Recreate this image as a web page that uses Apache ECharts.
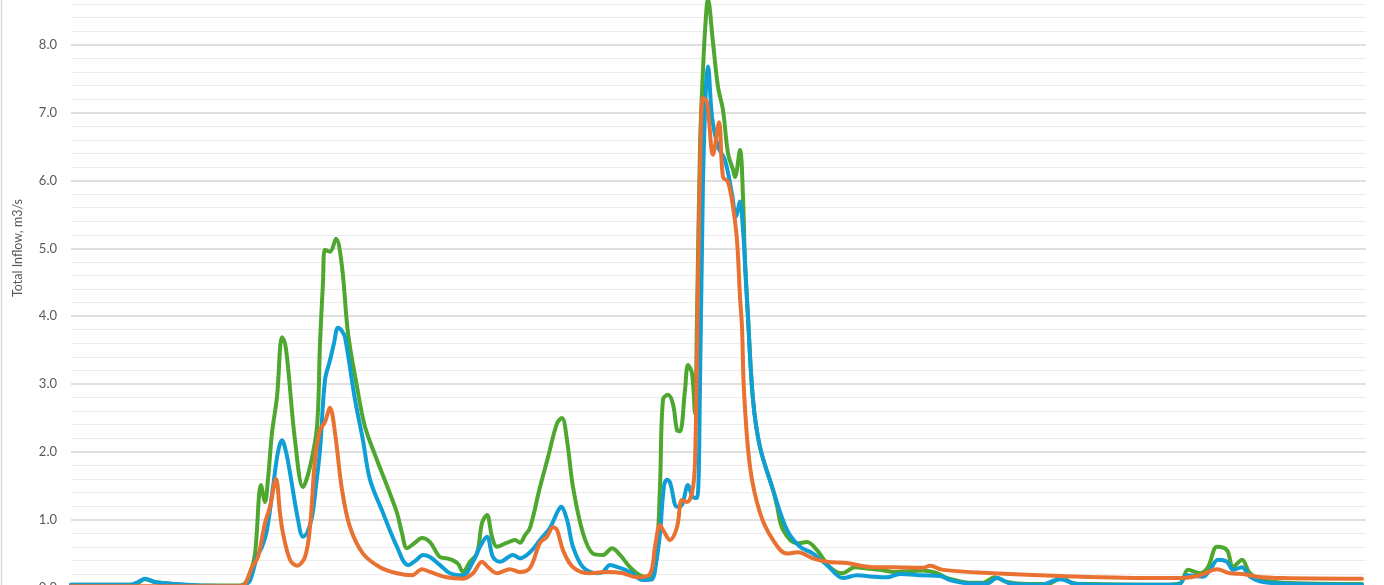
<!DOCTYPE html>
<html><head><meta charset="utf-8">
<script src="https://cdn.jsdelivr.net/npm/echarts@6/dist/echarts.min.js"></script>
<style>html,body{margin:0;padding:0;background:#fff}#c{width:1384px;height:585px}</style>
</head><body><div id="c"></div>
<script>
// x in days (sample positions), y in m3/s
const greenX = [0,11.8,13.4,14.8,16.8,20.8,25.8,33.8,34.8,35.8,36.8,38,38.8,39.4,40.2,41.2,42.2,42.8,43.4,44.8,46.4,47.8,49.2,49.8,50.4,50.8,51.8,53,54.2,55.4,57.2,58.8,61.2,63.2,65.2,66.2,67.2,68.8,70.2,71.8,73.8,75.2,76.4,77.4,78.4,79.8,81.2,82.2,83.2,84.2,85.2,87.2,88.8,89.8,90.8,91.8,93.8,95.4,97.2,98.2,99.2,100.4,102.4,104.4,106.4,108.2,109.8,111.8,113.8,115.8,117,117.8,118.4,119.4,120.4,121.2,121.8,122.8,123.4,124.2,124.8,125.2,125.8,126.2,126.8,127.4,128.4,129.4,130.4,131.4,132.4,132.8,133.8,134.4,134.8,135.4,136.4,137.8,140.4,141.2,142.4,145.2,147.2,149.2,151.8,154.2,156.8,159.2,161.8,164.4,170.4,173.2,175.2,179.8,182.4,184.8,187.2,191.2,195.2,198.2,200.4,204.4,217.8,221.8,223.4,225.8,227.4,229.2,231.2,232.4,234.2,235.8,238.4,242.4,258.2];
const greenY = [0.04,0.04,0.07,0.12,0.08,0.05,0.03,0.03,0.06,0.2,0.5,1.51,1.26,1.6,2.28,2.81,3.69,3.6,3.25,2.17,1.48,1.78,2.37,3.6,4.5,4.98,4.95,5.14,4.73,3.75,2.96,2.37,1.88,1.5,1.1,0.8,0.58,0.66,0.73,0.67,0.45,0.43,0.4,0.35,0.23,0.38,0.5,0.95,1.07,0.75,0.6,0.66,0.7,0.66,0.77,0.88,1.48,1.92,2.42,2.5,2.17,1.48,0.8,0.5,0.48,0.58,0.48,0.3,0.18,0.15,0.4,1.5,2.77,2.84,2.7,2.32,2.3,2.91,3.28,3.16,2.57,4.0,6.5,7.3,8.2,8.67,8.03,7.38,7.04,6.4,6.16,6.05,6.45,5.76,4.8,4.0,2.77,2.07,1.44,1.2,0.85,0.65,0.67,0.55,0.3,0.21,0.3,0.28,0.26,0.23,0.25,0.21,0.14,0.07,0.07,0.15,0.08,0.05,0.05,0.14,0.06,0.05,0.04,0.06,0.26,0.21,0.3,0.6,0.55,0.3,0.41,0.21,0.11,0.07,0.05];

const blueX = [0,11.8,13.4,14.8,16.8,20.8,25.8,33.8,34.8,35.8,37.2,38.2,39.2,40.4,41.4,42.2,43,43.8,45.4,46.4,47.2,48.2,49,49.8,50.8,51.8,52.6,53.4,54.2,54.8,56.8,58.4,59.8,62.4,65.2,67.4,69,70.4,71.8,73.8,75.8,78.4,80.4,81.8,83.2,84.4,85.8,88.4,89.8,91.8,93.8,95.8,97.2,98,99.2,100.4,102.4,105.2,106.4,107.8,109.4,111.8,114.4,116.2,117,117.8,118.6,119.2,119.8,121.2,122.2,123.4,124.4,125.2,125.8,126.4,127,127.4,128.2,129.4,130.8,132.2,133,133.8,134.4,134.8,135.2,136.4,137.8,140.4,143.2,145.8,148.4,151.2,154.4,157.2,160.4,163.2,165.8,170.4,173.8,175.8,179.8,183.2,185.2,187.8,193.8,197.8,201.2,205.8,221.4,223.2,226.4,227.8,229.4,231.2,232.4,234.2,235.8,238.4,245.8,258.2];
const blueY = [0.04,0.04,0.08,0.13,0.08,0.05,0.03,0.02,0.04,0.1,0.45,0.6,0.85,1.48,2.0,2.17,2.0,1.69,1.0,0.75,0.8,1.04,1.5,2.03,3.06,3.35,3.6,3.83,3.78,3.69,2.77,2.17,1.59,1.1,0.6,0.33,0.4,0.48,0.45,0.33,0.21,0.18,0.38,0.6,0.75,0.45,0.38,0.48,0.43,0.52,0.7,0.88,1.1,1.19,1.0,0.6,0.3,0.21,0.23,0.33,0.3,0.23,0.11,0.12,0.35,0.8,1.5,1.59,1.55,1.19,1.22,1.51,1.33,1.32,3.0,6.0,7.4,7.68,6.94,6.5,6.3,5.8,5.47,5.69,5.27,4.8,4.24,2.77,2.07,1.44,0.85,0.6,0.5,0.33,0.14,0.18,0.16,0.15,0.2,0.18,0.17,0.11,0.06,0.06,0.14,0.06,0.04,0.12,0.05,0.04,0.04,0.18,0.16,0.26,0.41,0.38,0.26,0.3,0.16,0.08,0.05,0.04];

const orangeX = [0,33.8,34.8,36.2,37.4,38.8,39.8,41,41.8,42.4,43.8,45.2,46.8,47.8,48.8,49.8,50.8,51.8,52.8,54.2,55.8,58.4,61.8,65.2,68.2,70.2,71.8,75.2,78.4,80.4,82.2,83.4,85.2,87.8,89.8,91.8,93.8,95.2,96.4,97.2,98.4,100.4,103.8,107.2,110.4,113.2,115.8,116.8,117.8,118.4,119.8,121.2,122.2,123.2,124.2,124.8,125.4,126,126.4,127.2,128.4,129.6,130.4,131.4,132.4,133.2,133.8,134.2,134.6,135.8,137.8,140.4,143.2,145.4,148.4,151.2,155.2,160.4,164.4,170.4,171.8,174.4,184.4,197.8,217.8,222.4,225.8,229.2,231.8,234.4,237.2,242.4,258.2];
const orangeY = [0.02,0.02,0.05,0.3,0.45,0.95,1.19,1.6,1.1,0.8,0.41,0.32,0.45,0.89,1.88,2.32,2.44,2.65,2.28,1.44,0.89,0.5,0.3,0.21,0.18,0.27,0.23,0.15,0.13,0.21,0.38,0.3,0.21,0.27,0.23,0.29,0.66,0.75,0.89,0.85,0.55,0.3,0.21,0.23,0.21,0.15,0.2,0.6,0.92,0.85,0.7,0.89,1.29,1.26,1.39,1.84,4.5,6.8,7.22,7.15,6.38,6.86,6.05,5.98,5.61,5.12,4.28,3.84,2.9,1.78,1.1,0.7,0.5,0.52,0.43,0.38,0.36,0.3,0.3,0.29,0.32,0.26,0.21,0.17,0.14,0.14,0.18,0.27,0.21,0.2,0.16,0.14,0.13];

const yTicks = {min: 0, max: 9, interval: 1};
const yName = 'Total Inflow, m3/s';

function pairs(xs, ys){ return xs.map((x,i)=>[x, ys[i]]); }
function line(name, color, xs, ys){
  return {name, type:'line', data: pairs(xs, ys), showSymbol:false, smooth:0.35,
    lineStyle:{color, width:4, cap:'round', join:'round'}, itemStyle:{color}, clip:false, silent:true};
}

const chart = echarts.init(document.getElementById('c'), null, {renderer:'canvas'});
chart.setOption({
  animation:false,
  backgroundColor:'#ffffff',
  grid:{left:71, right:18, top:-23, bottom:-2.5, containLabel:false, outerBoundsMode:'none'},
  xAxis:{type:'value', min:0, max:259, show:false},
  yAxis:{type:'value', min:yTicks.min, max:yTicks.max, interval:yTicks.interval,
    axisLine:{show:false}, axisTick:{show:false},
    axisLabel:{color:'#595959', fontSize:13, fontFamily:'Lato', margin:14, formatter:v=>v.toFixed(1)},
    splitLine:{lineStyle:{color:'#d4d4d4', width:1.5}},
    minorTick:{show:false, splitNumber:5},
    minorSplitLine:{show:true, lineStyle:{color:'#ececec', width:1.2}}
  },
  graphic:[
    {type:'text', x:18, y:248, rotation:Math.PI/2,
     style:{text:yName, fill:'#595959', font:'12.5px Lato', textAlign:'center', textVerticalAlign:'middle'}},
    {type:'line', shape:{x1:1.5, y1:0, x2:1.5, y2:585}, style:{stroke:'#d9d9d9', lineWidth:1.5}}
  ],
  series:[
    line('Green', '#4EA72E', greenX, greenY),
    line('Blue', '#0F9ED5', blueX, blueY),
    line('Orange', '#E97132', orangeX, orangeY)
  ]
});
</script></body></html>
